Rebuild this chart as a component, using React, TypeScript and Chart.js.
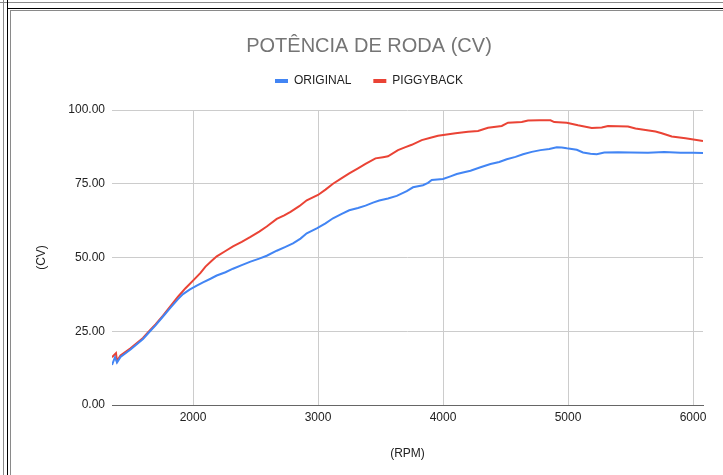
import React, { useEffect, useRef } from "react";
import { Chart, registerables } from "chart.js";

Chart.register(...registerables);

const chartTitle = "POTÊNCIA DE RODA (CV)";
const seriesNames = ["ORIGINAL", "PIGGYBACK"];
const xAxisTitle = "(RPM)";
const yAxisTitle = "(CV)";

const rpmOriginal = [
  1352, 1376, 1392, 1420, 1500, 1600, 1656, 1700, 1760, 1820, 1880, 1920, 1976, 2030, 2080, 2140, 2190,
  2260, 2320, 2390, 2460, 2530, 2590, 2670, 2740, 2800, 2860, 2910, 2990, 3060, 3120, 3190, 3250, 3320,
  3380, 3440, 3490, 3560, 3630, 3710, 3760, 3840, 3880, 3910, 4000, 4060, 4110, 4160, 4220, 4300, 4380,
  4450, 4510, 4580, 4640, 4710, 4780, 4850, 4910, 4950, 4990, 5070, 5120, 5180, 5230, 5290, 5400, 5500,
  5640, 5770, 5900, 6000, 6080,
];
const cvOriginal = [
  13.6, 16.2, 14.4, 16.3, 18.8, 22.4, 25.0, 27.0, 30.0, 33.0, 35.9, 37.6, 39.2, 40.5, 41.6, 42.8, 43.9,
  45.0, 46.2, 47.4, 48.6, 49.6, 50.6, 52.3, 53.6, 54.8, 56.4, 58.2, 59.9, 61.6, 63.3, 64.8, 66.0, 66.8,
  67.6, 68.6, 69.3, 70.0, 70.9, 72.5, 73.8, 74.5, 75.3, 76.3, 76.6, 77.5, 78.3, 78.8, 79.4, 80.6, 81.7,
  82.4, 83.3, 84.1, 85.0, 85.8, 86.4, 86.8, 87.4, 87.3, 87.0, 86.5, 85.6, 85.2, 85.0, 85.6, 85.7, 85.6,
  85.5, 85.8, 85.5, 85.5, 85.4,
];

const rpmPiggyback = [
  1352, 1384, 1392, 1420, 1500, 1600, 1656, 1700, 1760, 1820, 1880, 1940, 2010, 2060, 2100, 2150, 2190,
  2260, 2320, 2390, 2460, 2530, 2590, 2670, 2730, 2780, 2850, 2910, 3000, 3060, 3120, 3190, 3250, 3320,
  3380, 3460, 3520, 3560, 3640, 3700, 3750, 3830, 3900, 3960, 4030, 4100, 4200, 4280, 4360, 4470, 4520,
  4630, 4680, 4770, 4860, 4890, 4990, 5080, 5190, 5270, 5320, 5480, 5540, 5620, 5700, 5750, 5830, 5940,
  6080,
];
const cvPiggyback = [
  16.2, 17.6, 14.9, 16.8, 19.2, 22.7, 25.4, 27.3, 30.3, 33.5, 36.7, 39.6, 42.6, 44.8, 46.9, 48.9, 50.4,
  52.2, 53.8, 55.3, 57.0, 58.8, 60.5, 63.1, 64.3, 65.5, 67.4, 69.4, 71.2, 73.0, 75.0, 76.9, 78.5, 80.2,
  81.7, 83.6, 84.0, 84.3, 86.4, 87.4, 88.2, 89.8, 90.6, 91.3, 91.7, 92.1, 92.6, 92.9, 94.0, 94.6, 95.7,
  95.9, 96.4, 96.5, 96.5, 95.9, 95.7, 94.8, 93.9, 94.1, 94.6, 94.4, 93.7, 93.2, 92.7, 92.1, 91.0, 90.4,
  89.5,
];

const xTickValues = [2000, 3000, 4000, 5000, 6000];
const yTickValues = [0, 25, 50, 75, 100];
const xMin = 1352;
const xMax = 6080;

const BLUE = "#4285F4";
const RED = "#EA4335";
const FONT = "'Liberation Sans', Arial, sans-serif";

const legendGap = {
  id: "legendGap",
  beforeLayout(chart: any) {
    const lg = chart.legend;
    if (!lg || lg._gapPatched) return;
    const orig = lg.fit;
    lg.fit = function () {
      orig.call(this);
      this.height += 13;
    };
    lg._gapPatched = true;
  },
};

export default function App() {
  const ref = useRef<HTMLCanvasElement | null>(null);

  useEffect(() => {
    if (!ref.current) return;
    const toPts = (xs: number[], ys: number[]) => xs.map((x, i) => ({ x, y: ys[i] }));
    const chart = new Chart(ref.current, {
      type: "line",
      data: {
        datasets: [
          {
            label: seriesNames[0],
            data: toPts(rpmOriginal, cvOriginal),
            borderColor: BLUE,
            backgroundColor: BLUE,
            borderWidth: 2,
            pointRadius: 0,
            tension: 0,
          },
          {
            label: seriesNames[1],
            data: toPts(rpmPiggyback, cvPiggyback),
            borderColor: RED,
            backgroundColor: RED,
            borderWidth: 2,
            pointRadius: 0,
            tension: 0,
          },
        ],
      },
      options: {
        animation: false,
        responsive: false,
        layout: { padding: { top: 34, left: 35, right: 20, bottom: 10 } },
        plugins: {
          title: {
            display: true,
            text: chartTitle,
            color: "#757575",
            font: { family: FONT, size: 20, weight: "normal", lineHeight: 1.2 },
            padding: { top: 0, bottom: -5 },
          },
          legend: {
            display: true,
            position: "top",
            labels: {
              boxWidth: 13,
              boxHeight: 4,
              padding: 22,
              color: "#222222",
              font: { family: FONT, size: 12 },
              generateLabels: (c: any) =>
                (Chart.defaults.plugins.legend.labels.generateLabels as any)(c).map((it: any) => ({
                  ...it,
                  lineWidth: 0,
                })),
            },
          },
          tooltip: { enabled: false },
        },
        scales: {
          x: {
            type: "linear",
            min: xMin,
            max: xMax,
            afterBuildTicks: (s: any) => {
              s.ticks = xTickValues.map((v) => ({ value: v }));
            },
            afterFit: (s: any) => {
              s.height = 60;
            },
            grid: { color: "#cccccc", drawTicks: false },
            border: { display: true, color: "#666666", width: 1 },
            ticks: {
              padding: 5,
              color: "#222222",
              font: { family: FONT, size: 12 },
              maxRotation: 0,
              autoSkip: false,
              callback: (v: any) => String(v),
            },
            title: {
              display: true,
              text: xAxisTitle,
              color: "#222222",
              font: { family: FONT, size: 12 },
              padding: { top: 4, bottom: 4 },
            },
          },
          y: {
            min: 0,
            max: 100,
            afterBuildTicks: (s: any) => {
              s.ticks = yTickValues.map((v) => ({ value: v }));
            },
            afterFit: (s: any) => {
              s.width = 77;
            },
            grid: { color: "#cccccc", drawTicks: false },
            border: { display: false },
            ticks: {
              padding: 7,
              color: "#222222",
              font: { family: FONT, size: 12 },
              callback: (v: any) => Number(v).toFixed(2),
            },
            title: {
              display: true,
              text: yAxisTitle,
              color: "#222222",
              font: { family: FONT, size: 12 },
              padding: { top: -1, bottom: 0 },
            },
          },
        },
      } as any,
      plugins: [legendGap as any],
    });
    return () => chart.destroy();
  }, []);

  const line = (s: React.CSSProperties) => (
    <div style={{ position: "absolute", pointerEvents: "none", ...s }} />
  );

  return (
    <div style={{ position: "fixed", left: 0, top: 0, width: 723, height: 475, background: "#fff", overflow: "hidden" }}>
      <canvas ref={ref} width={723} height={475} style={{ position: "absolute", left: 0, top: 0, width: 723, height: 475 }} />
      {line({ left: 0, top: 2, width: 723, height: 1, background: "#8a8a8a" })}
      {line({ left: 7, top: 8, width: 716, height: 1, background: "#000" })}
      {line({ left: 10, top: 10, width: 713, height: 1, background: "#8a8a8a" })}
      {line({ left: 3, top: 0, width: 1, height: 475, background: "#8a8a8a" })}
      {line({ left: 7, top: 0, width: 1, height: 475, background: "#000" })}
      {line({ left: 10, top: 10, width: 1, height: 465, background: "#8a8a8a" })}
    </div>
  );
}
